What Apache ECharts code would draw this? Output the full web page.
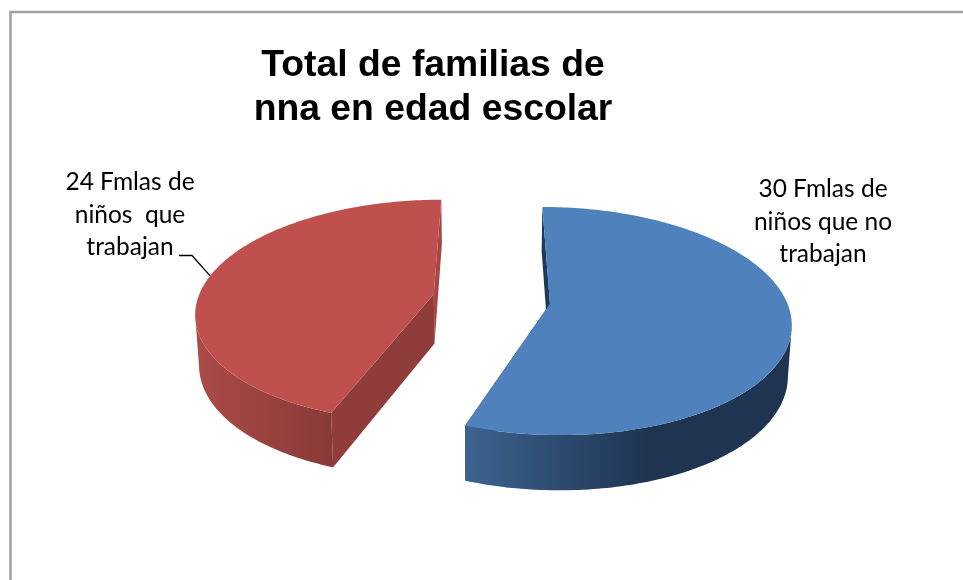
<!DOCTYPE html>
<html><head><meta charset="utf-8">
<style>html,body{margin:0;padding:0;background:#fff}#c{width:963px;height:580px}</style>
<script src="https://cdn.jsdelivr.net/npm/echarts@6/dist/echarts.min.js"></script>
</head><body><div id="c"></div>
<script>
const chartTitle = "Total de familias de\nnna en edad escolar";
const categories = ["30 Fmlas de\nniños que no\ntrabajan", "24 Fmlas de\nniños  que\ntrabajan"];
const values = [30, 24];
const topColors = ["#4f81bd", "#c0504d"];
const sideStops = [["#3c6390", "#1e3450"], ["#ab4b48", "#873937"]];
const sideRanges = [[465, 650], [200, 335]];
const startWall = ["#1f3a58", "#8f3c3a"];
const endWall = ["#1f3a58", "#a84644"];
const labelAnchors = [[823, 222], [130, 215]];

// view of the tilted disc
const V = {x: 491.5, y: 299, rx: 236, ry: 110, p: 0.15, explode: 0.25, shrink: 0.987};
const total = values.reduce((a, b) => a + b, 0);
const rad = d => d * Math.PI / 180;

function project(wx, wy, bottom) {
  const k = 1 / (1 - V.p * wy);
  let sx = V.rx * wx * k, sy = V.y + V.ry * wy * k;
  if (bottom) { sx *= V.shrink; sy += 49.5 + 5.5 * wy; }
  return [V.x + sx, sy];
}

function renderSlice(params, api) {
  const i = params.dataIndex;
  const before = values.slice(0, i).reduce((a, b) => a + b, 0);
  const a0 = before / total * 360;
  const a1 = (before + api.value(0)) / total * 360;
  const mid = rad((a0 + a1) / 2);
  const ox = V.explode * Math.sin(mid), oy = -V.explode * Math.cos(mid);
  const rim = (deg, bottom) => project(ox + Math.sin(rad(deg)), oy - Math.cos(rad(deg)), bottom);
  const apex = bottom => project(ox, oy, bottom);

  const topArc = [], botArc = [];
  for (let d = a0; d <= a1 + 1e-6; d += 1) { topArc.push(rim(d, false)); botArc.push(rim(d, true)); }
  // outer wall only from the silhouette (the point furthest from the view centre) to the front
  let sil = 0;
  topArc.forEach((p, n) => { if (Math.abs(p[0] - V.x) > Math.abs(topArc[sil][0] - V.x)) sil = n; });
  const frontTop = i === 0 ? topArc.slice(sil) : topArc.slice(0, sil + 1);
  const frontBot = i === 0 ? botArc.slice(sil) : botArc.slice(0, sil + 1);

  const poly = (points, fill) => ({type: 'polygon', shape: {points}, style: {fill, stroke: null}});
  const r = sideRanges[i], s = sideStops[i];
  const grad = new echarts.graphic.LinearGradient(r[0], 0, r[1], 0,
    [{offset: 0, color: s[0]}, {offset: 1, color: s[1]}], true);

  const children = [
    poly([rim(a1, false), apex(false), apex(true), rim(a1, true)], endWall[i]),
    poly([rim(a0, false), apex(false), apex(true), rim(a0, true)], startWall[i]),
    poly(frontTop.concat(frontBot.slice().reverse()), grad),
    poly([apex(false)].concat(topArc), topColors[i]),
    {type: 'text', style: {
      x: labelAnchors[i][0], y: labelAnchors[i][1], text: categories[i],
      font: '24.5px Lato', fill: '#000', align: 'center', verticalAlign: 'middle', lineHeight: 32.5
    }}
  ];
  if (i === 1) {
    const end = rim((a0 + a1) / 2, false);
    children.push({type: 'polyline', shape: {points: [[179, 255.5], [192, 255.5], end]},
      style: {stroke: '#000', lineWidth: 1.3, fill: null}});
  }
  return {type: 'group', children};
}

const chart = echarts.init(document.getElementById('c'), null, {renderer: 'canvas'});
chart.setOption({
  animation: false,
  backgroundColor: '#fff',
  title: {
    text: chartTitle, left: 428, top: 39, textAlign: 'center',
    textStyle: {fontFamily: 'Liberation Sans', fontWeight: 'bold', fontSize: 37.3, lineHeight: 44, color: '#000'}
  },
  graphic: [{type: 'rect', z: -1, shape: {x: 10.5, y: 12, width: 1000, height: 1000},
    style: {fill: '#fff', stroke: '#a0a0a0', lineWidth: 2.5}}],
  series: [{
    type: 'custom', coordinateSystem: 'none', silent: true,
    renderItem: renderSlice,
    data: values.map(v => [v])
  }]
});
</script></body></html>
